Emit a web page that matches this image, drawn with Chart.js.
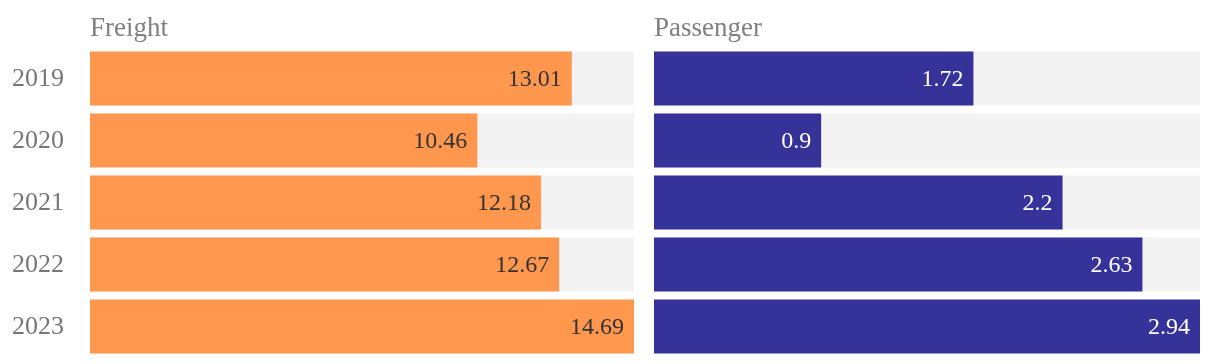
<!DOCTYPE html>
<html>
<head>
<meta charset="utf-8">
<script src="https://cdn.jsdelivr.net/npm/chart.js@4"></script>
<style>
  body { margin: 0; background: #fff; width: 1220px; height: 364px; overflow: hidden; position: relative; }
  .panel { position: absolute; top: 0; height: 364px; }
</style>
</head>
<body>
<div class="panel" style="left:0;width:634px"><canvas id="freightChart" width="634" height="364"></canvas></div>
<div class="panel" style="left:654px;width:566px"><canvas id="passengerChart" width="566" height="364"></canvas></div>
<script>
const years = ['2019', '2020', '2021', '2022', '2023'];
const freight = [13.01, 10.46, 12.18, 12.67, 14.69];
const passenger = [1.72, 0.9, 2.2, 2.63, 2.94];

const FONT = '"Liberation Serif", serif';

// panel title, year labels and value labels
const labelPlugin = {
    id: 'labels',
    afterDatasetsDraw(chart, args, opts) {
        const ctx = chart.ctx;
        const meta = chart.getDatasetMeta(0);
        ctx.save();
        ctx.font = '27px ' + FONT;
        ctx.fillStyle = '#808080';
        ctx.textAlign = 'left';
        ctx.textBaseline = 'alphabetic';
        ctx.fillText(opts.title, chart.chartArea.left, 36);

        if (opts.showYears) {
            ctx.font = '26px ' + FONT;
            ctx.fillStyle = '#777';
            ctx.textAlign = 'right';
            ctx.textBaseline = 'middle';
            meta.data.forEach((bar, i) => {
                ctx.fillText(chart.data.labels[i], 64, bar.y + 1);
            });
        }

        ctx.font = '24px ' + FONT;
        ctx.fillStyle = opts.valueColor;
        ctx.textAlign = 'right';
        ctx.textBaseline = 'middle';
        meta.data.forEach((bar, i) => {
            ctx.fillText(String(chart.data.datasets[0].data[i]), bar.x - 10, bar.y + 1);
        });
        ctx.restore();
    }
};

function makeChart(id, values, color, title, valueColor, showYears) {
    const max = Math.max(...values);
    new Chart(document.getElementById(id).getContext('2d'), {
        type: 'bar',
        data: {
            labels: years,
            datasets: [
                {
                    data: values,
                    backgroundColor: color,
                    grouped: false,
                    barPercentage: 1,
                    categoryPercentage: 0.871
                },
                {
                    // grey track behind each bar
                    data: values.map(() => max),
                    backgroundColor: '#f3f3f3',
                    grouped: false,
                    barPercentage: 1,
                    categoryPercentage: 0.871
                }
            ]
        },
        options: {
            indexAxis: 'y',
            responsive: false,
            animation: false,
            layout: { padding: { top: 47.5, bottom: 6.5, left: showYears ? 90 : 0, right: showYears ? 0 : 20 } },
            plugins: {
                legend: { display: false },
                tooltip: { enabled: false },
                labels: { title: title, valueColor: valueColor, showYears: showYears }
            },
            scales: {
                x: { display: false, min: 0, max: max },
                y: { display: false }
            }
        },
        plugins: [labelPlugin]
    });
}

makeChart('freightChart', freight, '#ff974f', 'Freight', '#333333', true);
makeChart('passengerChart', passenger, '#35339a', 'Passenger', '#ffffff', false);
</script>
</body>
</html>
